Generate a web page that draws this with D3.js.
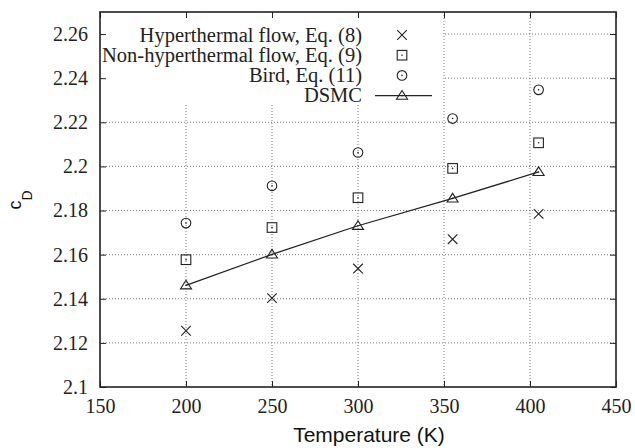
<!DOCTYPE html>
<html>
<head>
<meta charset="utf-8">
<script src="https://cdn.jsdelivr.net/npm/d3@7"></script>
<style>
  body { margin: 0; background: #fff; }
  svg { display: block; }
</style>
</head>
<body>
<script>
const temps = [200, 250, 300, 355, 405];
const hyperthermal = [2.1255, 2.1403, 2.1537, 2.1670, 2.1785];
const nonHyperthermal = [2.1577, 2.1723, 2.1858, 2.1991, 2.2107];
const bird = [2.1743, 2.1912, 2.2063, 2.2217, 2.2347];
const dsmc = [2.1461, 2.1601, 2.1731, 2.1855, 2.1975];

const xTicks = [150, 200, 250, 300, 350, 400, 450];
const yTicks = [2.1, 2.12, 2.14, 2.16, 2.18, 2.2, 2.22, 2.24, 2.26];
const yTickLabels = ["2.1", "2.12", "2.14", "2.16", "2.18", "2.2", "2.22", "2.24", "2.26"];

const legendItems = [
  { name: "Hyperthermal flow, Eq. (8)", shape: "cross", line: false },
  { name: "Non-hyperthermal flow, Eq. (9)", shape: "square", line: false },
  { name: "Bird, Eq. (11)", shape: "circle", line: false },
  { name: "DSMC", shape: "triangle", line: true }
];

const serif = "'Liberation Serif', 'Times New Roman', serif";
const sans = "'Liberation Sans', Arial, sans-serif";

const width = 635, height = 448;
const margin = { left: 100, right: 19, top: 12, bottom: 61 };
const innerW = width - margin.left - margin.right;
const innerH = height - margin.top - margin.bottom;

const svg = d3.select("body").append("svg")
  .attr("width", width)
  .attr("height", height);

const g = svg.append("g").attr("transform", `translate(${margin.left},${margin.top})`);

const x = d3.scaleLinear().domain([150, 450]).range([0, innerW]);
const y = d3.scaleLinear().domain([2.1, 2.27]).range([innerH, 0]);

// grid
const grid = g.append("g");
grid.selectAll("line.vx").data(xTicks.slice(1, -1)).enter().append("line")
  .attr("x1", d => x(d)).attr("x2", d => x(d))
  .attr("y1", 0).attr("y2", innerH)
  .attr("stroke", "#555").attr("stroke-width", 0.8).attr("stroke-dasharray", "1,2");
grid.selectAll("line.hy").data(yTicks.slice(1)).enter().append("line")
  .attr("x1", 0).attr("x2", innerW)
  .attr("y1", d => y(d)).attr("y2", d => y(d))
  .attr("stroke", "#555").attr("stroke-width", 0.8).attr("stroke-dasharray", "1,2");

// legend box hides the grid behind it
const legendBox = { x0: 0, x1: 343, y0: 0, y1: 92 };
g.append("rect")
  .attr("x", legendBox.x0).attr("y", legendBox.y0)
  .attr("width", legendBox.x1 - legendBox.x0)
  .attr("height", legendBox.y1 - legendBox.y0)
  .attr("fill", "#fff");

// axes with inner ticks
const tickLen = 6;
const xAxis = g.append("g").attr("transform", `translate(0,${innerH})`)
  .call(d3.axisBottom(x).tickValues(xTicks).tickSize(-tickLen).tickPadding(12).tickFormat(d3.format("d")));
const xAxisTop = g.append("g")
  .call(d3.axisTop(x).tickValues(xTicks).tickSize(-tickLen).tickFormat(""));
const yAxis = g.append("g")
  .call(d3.axisLeft(y).tickValues(yTicks).tickSize(-tickLen).tickPadding(12)
    .tickFormat((d, i) => yTickLabels[i]));
const yAxisRight = g.append("g").attr("transform", `translate(${innerW},0)`)
  .call(d3.axisRight(y).tickValues(yTicks).tickSize(-tickLen).tickFormat(""));

[xAxis, xAxisTop, yAxis, yAxisRight].forEach(a => {
  a.attr("font-family", null).attr("font-size", null);
  a.select(".domain").remove();
  a.selectAll(".tick line").attr("stroke", "#222").attr("stroke-width", 1);
  a.selectAll(".tick text")
    .style("font-family", serif).style("font-size", "20px").attr("fill", "#222");
});
xAxis.selectAll(".tick text").attr("dy", "0.71em");

g.append("rect")
  .attr("x", 0).attr("y", 0).attr("width", innerW).attr("height", innerH)
  .attr("fill", "none").attr("stroke", "#222").attr("stroke-width", 1.6);

// markers
function marker(sel, shape, cx, cy) {
  const s = 4.8;
  const m = sel.append("g").attr("transform", `translate(${cx},${cy})`)
    .attr("fill", "none").attr("stroke", "#222").attr("stroke-width", 1.1);
  if (shape === "cross") {
    m.append("path").attr("d", `M${-s},${-s}L${s},${s}M${-s},${s}L${s},${-s}`);
  } else if (shape === "square") {
    m.append("rect").attr("x", -s).attr("y", -s).attr("width", 2 * s).attr("height", 2 * s);
  } else if (shape === "circle") {
    m.append("circle").attr("r", s);
  } else if (shape === "triangle") {
    m.append("path").attr("d", `M0,${-s * 1.05}L${s * 1.15},${s * 0.75}L${-s * 1.15},${s * 0.75}Z`);
  }
  if (shape !== "cross") {
    m.append("circle").attr("r", 0.8).attr("fill", "#222").attr("stroke", "none");
  }
}

const series = [
  { values: hyperthermal, shape: "cross" },
  { values: nonHyperthermal, shape: "square" },
  { values: bird, shape: "circle" },
  { values: dsmc, shape: "triangle" }
];

const line = d3.line().x((d, i) => x(temps[i])).y(d => y(d));
g.append("path").datum(dsmc).attr("d", line)
  .attr("fill", "none").attr("stroke", "#222").attr("stroke-width", 1.3);

const marks = g.append("g");
series.forEach(s => {
  s.values.forEach((v, i) => marker(marks, s.shape, x(temps[i]), y(v)));
});

// legend
const legend = g.append("g");
legendItems.forEach((item, i) => {
  const ly = 23 + i * 20.2;
  legend.append("text")
    .style("font-family", serif).style("font-size", "20.5px").attr("fill", "#222")
    .attr("x", 262).attr("y", ly).attr("dy", "0.33em")
    .attr("text-anchor", "end").text(item.name);
  if (item.line) {
    legend.append("line").attr("x1", 275).attr("x2", 332)
      .attr("y1", ly).attr("y2", ly)
      .attr("stroke", "#222").attr("stroke-width", 1.3);
  }
  marker(legend, item.shape, 302, ly);
});

// axis titles
svg.append("text")
  .style("font-family", sans).style("font-size", "21px").attr("fill", "#111")
  .attr("x", 369).attr("y", 442).attr("text-anchor", "middle")
  .text("Temperature (K)");

const yTitle = svg.append("text")
  .style("font-family", sans).style("font-size", "18px").attr("fill", "#111")
  .attr("transform", "translate(21,200) rotate(-90)")
  .attr("text-anchor", "middle");
yTitle.append("tspan").text("c");
yTitle.append("tspan").style("font-size", "14px").attr("dy", 11).text("D");
</script>
</body>
</html>
